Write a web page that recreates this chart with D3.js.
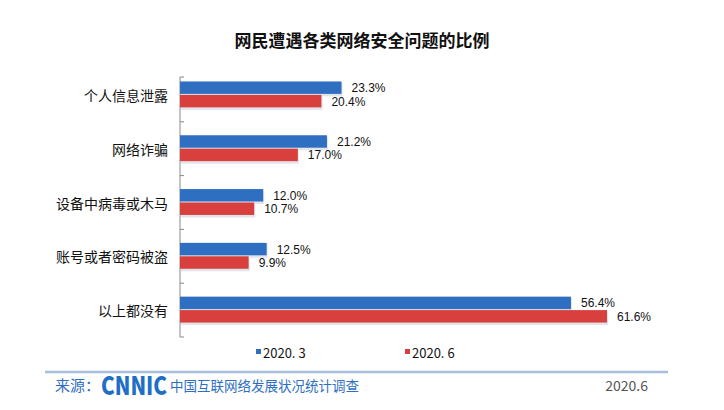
<html>
<head>
<meta charset="utf-8">
<script src="https://d3js.org/d3.v7.min.js"></script>
<style>
body { margin: 0; background: #fff; }
text { font-family: "Noto Sans CJK SC", "Liberation Sans", sans-serif; }
text.val { font-family: "Liberation Sans", Arial, sans-serif; }
</style>
</head>
<body>
<div id="div1"></div>
<script>

// Svg Dimensions
var svg_width = 724
var svg_height = 410

var categories = ["个人信息泄露", "网络诈骗", "设备中病毒或木马", "账号或者密码被盗", "以上都没有"]
var series_names = ["2020. 3", "2020. 6"]
var values_march = [23.3, 21.2, 12.0, 12.5, 56.4]
var values_june = [20.4, 17.0, 10.7, 9.9, 61.6]
var series_colors = ["#2f6fc2", "#d8403e"]

var svg = d3.select("#div1").append("svg")
  .attr("width", svg_width)
  .attr("height", svg_height)

svg.append("text")
  .text("网民遭遇各类网络安全问题的比例")
  .attr("x", 362)
  .attr("y", 47)
  .attr("text-anchor", "middle")
  .attr("font-size", 17)
  .attr("font-weight", "bold")
  .attr("fill", "#111")

var x = d3.scaleLinear()
  .domain([0, 61.6])
  .range([180, 607])

var y = d3.scaleBand()
  .domain(categories)
  .range([68, 337])
  .paddingInner(0.5)
  .paddingOuter(0.25)

var y_inner = d3.scaleBand()
  .domain([0, 1])
  .range([0, y.bandwidth()])

// axis line and ticks
var axis = svg.append("g")
var tick_pos = d3.range(categories.length + 1).map(function(i) { return 68 + i * (337 - 68) / categories.length })
axis.append("line")
  .attr("x1", 180).attr("x2", 180)
  .attr("y1", 77).attr("y2", 337)
  .style("stroke", "#888")
axis.selectAll(".tick").data(tick_pos.slice(1)).enter().append("line")
  .attr("x1", 180).attr("x2", 184)
  .attr("y1", function(d) { return d }).attr("y2", function(d) { return d })
  .style("stroke", "#888")
axis.append("line")
  .attr("x1", 180).attr("x2", 184)
  .attr("y1", 77).attr("y2", 77)
  .style("stroke", "#888")

svg.selectAll(".cat").data(categories).enter().append("text")
  .text(function(d) { return d })
  .attr("x", 168)
  .attr("y", function(d) { return y(d) + y.bandwidth() / 2 })
  .attr("text-anchor", "end")
  .attr("dominant-baseline", "central")
  .attr("font-size", 14)
  .attr("fill", "#111")

var all_series = [values_march, values_june]
all_series.forEach(function(vals, s) {
  var g = svg.append("g")
  g.selectAll("rect.shadow").data(vals).enter().append("rect")
    .attr("x", 181)
    .attr("y", function(d, i) { return y(categories[i]) + y_inner(s) + 1.5 })
    .attr("width", function(d) { return x(d) - 180 })
    .attr("height", y_inner.bandwidth())
    .style("fill", "#e3e3ea")
  g.selectAll("rect.bar").data(vals).enter().append("rect")
    .attr("x", 180)
    .attr("y", function(d, i) { return y(categories[i]) + y_inner(s) })
    .attr("width", function(d) { return x(d) - 180 })
    .attr("height", y_inner.bandwidth() - 1)
    .style("fill", series_colors[s])
  g.selectAll("text").data(vals).enter().append("text")
    .attr("class", "val")
    .text(function(d) { return d.toFixed(1) + "%" })
    .attr("x", function(d) { return x(d) + 10 })
    .attr("y", function(d, i) { return y(categories[i]) + y_inner(s) + y_inner.bandwidth() / 2 })
    .attr("dominant-baseline", "central")
    .attr("font-size", 12)
    .attr("fill", "#111")
})

// legend
var legend_x = [256, 405]
series_names.forEach(function(name, s) {
  svg.append("rect")
    .attr("x", legend_x[s]).attr("y", 349)
    .attr("width", 5).attr("height", 5)
    .style("fill", series_colors[s])
  svg.append("text")
    .text(name)
    .attr("x", legend_x[s] + 7).attr("y", 352)
    .attr("dominant-baseline", "central")
    .attr("font-size", 13)
    .attr("fill", "#111")
})

// footer
svg.append("line")
  .attr("x1", 45).attr("x2", 668)
  .attr("y1", 372).attr("y2", 372)
  .style("stroke", "#a9bedc")
  .style("stroke-width", 2.5)
svg.append("text")
  .text("来源：")
  .attr("x", 55).attr("y", 391)
  .attr("font-size", 15)
  .attr("fill", "#2f6fc2")
svg.append("text")
  .text("CNNIC")
  .attr("x", 101).attr("y", 395)
  .attr("font-size", 25)
  .attr("font-weight", 900)
  .attr("textLength", 66)
  .attr("lengthAdjust", "spacingAndGlyphs")
  .attr("fill", "#1f6fc6")
svg.append("text")
  .text("中国互联网络发展状况统计调查")
  .attr("x", 170).attr("y", 391)
  .attr("font-size", 13.5)
  .attr("fill", "#2f6fc2")
svg.append("text")
  .text("2020.6")
  .attr("x", 648).attr("y", 391)
  .attr("text-anchor", "end")
  .attr("font-size", 14)
  .attr("fill", "#555")

</script>
</body>
</html>
